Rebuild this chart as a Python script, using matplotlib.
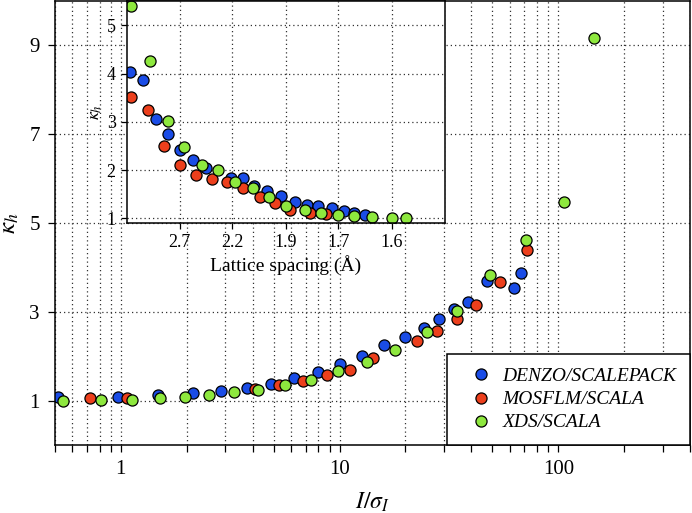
import numpy as np
import matplotlib
matplotlib.use("Agg")
import matplotlib.pyplot as plt
from matplotlib.ticker import FixedLocator, NullFormatter

plt.rcParams["font.family"] = ["Liberation Serif", "DejaVu Serif"]
plt.rcParams["mathtext.fontset"] = "stix"

# main panel: kappa_h against I/sigma(I)
denzo_isig = [0.517, 0.972, 1.48, 2.13, 2.86, 3.76, 4.84, 6.18, 7.96, 10.0,
              12.7, 15.9, 19.9, 24.2, 28.5, 33.5, 38.8, 47.3, 62.7, 67.8]
denzo_kappa = [1.09, 1.08, 1.13, 1.17, 1.22, 1.28, 1.37, 1.51, 1.64, 1.83,
               2.00, 2.25, 2.43, 2.63, 2.84, 3.06, 3.23, 3.69, 3.53, 3.88]

mosflm_isig = [0.725, 1.07, 4.11, 5.29, 6.77, 8.72, 11.2, 14.2, 22.6, 27.9,
               34.3, 42.0, 53.9, 71.9]
mosflm_kappa = [1.05, 1.06, 1.26, 1.35, 1.43, 1.58, 1.70, 1.97, 2.34, 2.56,
                2.84, 3.15, 3.68, 4.39]

xds_isig = [0.541, 0.810, 1.13, 1.51, 1.97, 2.54, 3.29, 4.25, 5.60, 7.42,
            9.82, 13.3, 18.0, 25.0, 34.4, 48.9, 70.9, 106.4, 145.9]
xds_kappa = [1.00, 1.01, 1.02, 1.05, 1.08, 1.12, 1.19, 1.24, 1.34, 1.47,
             1.66, 1.88, 2.15, 2.54, 3.02, 3.83, 4.61, 5.47, 9.17]

# inset: kappa_h against lattice spacing (A)
denzo_d = [3.73, 3.35, 3.07, 2.86, 2.70, 2.54, 2.41, 2.21, 2.13, 2.06,
           1.99, 1.92, 1.86, 1.81, 1.77, 1.72, 1.68, 1.65, 1.62]
denzo_kd = [4.03, 3.86, 3.06, 2.74, 2.41, 2.21, 2.04, 1.83, 1.83, 1.68,
            1.56, 1.46, 1.34, 1.28, 1.25, 1.21, 1.15, 1.12, 1.07]

mosflm_d = [3.71, 3.23, 2.93, 2.70, 2.51, 2.36, 2.24, 2.13, 2.03, 1.95,
            1.88, 1.80, 1.74]
mosflm_kd = [3.52, 3.24, 2.50, 2.11, 1.90, 1.82, 1.75, 1.62, 1.45, 1.32,
             1.18, 1.12, 1.08]

xds_d = [3.70, 3.19, 2.87, 2.64, 2.45, 2.31, 2.18, 2.07, 1.98, 1.90,
         1.82, 1.76, 1.70, 1.65, 1.60, 1.55, 1.515]
xds_kd = [5.40, 4.26, 3.01, 2.47, 2.11, 2.00, 1.76, 1.62, 1.44, 1.25,
          1.17, 1.12, 1.07, 1.04, 1.02, 1.00, 1.00]

d_ticks = [2.70, 2.20, 1.90, 1.70, 1.55]
d_labels = ["2.7", "2.2", "1.9", "1.7", "1.6"]

series = [
    ("DENZO/SCALEPACK", "#1a4ce6", denzo_isig, denzo_kappa, denzo_d, denzo_kd),
    ("MOSFLM/SCALA", "#ec3f1c", mosflm_isig, mosflm_kappa, mosflm_d, mosflm_kd),
    ("XDS/SCALA", "#8ee83e", xds_isig, xds_kappa, xds_d, xds_kd),
]

grid_kw = dict(color="0.2", linestyle=(0, (1, 2.4)), linewidth=0.9)
mk = dict(linestyle="none", marker="o", markersize=8,
          markeredgecolor="black", markeredgewidth=0.9)

fig = plt.figure(figsize=(6.92, 5.13), dpi=100)
ax = fig.add_axes([0.0795, 0.1326, 0.9176, 0.8654])

for name, col, xs, ys, _, _ in series:
    ax.plot(xs, ys, color=col, markerfacecolor=col, label=name, **mk)

ax.set_xscale("log")
ax.set_xlim(0.5, 400)
ax.set_ylim(0, 10)
ax.set_yticks([1, 3, 5, 7, 9])
ax.xaxis.set_major_locator(FixedLocator([1, 10, 100]))
ax.set_xticklabels(["1", "10", "100"])
ax.xaxis.set_minor_formatter(NullFormatter())
ax.grid(True, which="both", axis="x", **grid_kw)
ax.grid(True, which="major", axis="y", **grid_kw)
ax.tick_params(axis="both", which="major", direction="out", length=5,
               width=0.9, labelsize=15, pad=6)
ax.tick_params(axis="x", which="minor", direction="out", length=5, width=0.9)
ax.set_xlabel(r"$I/\sigma_I$", fontsize=17, labelpad=8)
ax.set_ylabel(r"$\kappa_h$", fontsize=18, labelpad=6)
for sp in ax.spines.values():
    sp.set_linewidth(1.1)

leg = ax.legend(loc="lower right", borderaxespad=0, fancybox=False,
                edgecolor="black", framealpha=1, handlelength=2.1,
                handletextpad=0.05, borderpad=0.7, labelspacing=0.28,
                prop={"style": "italic", "size": 14, "family": "Liberation Serif"})
leg.get_frame().set_linewidth(1.1)
leg.set_zorder(5)

# inset
ins = fig.add_axes([0.1832, 0.5659, 0.4598, 0.432])
for name, col, _, _, ds, ks in series:
    ins.plot(1 / np.array(ds) ** 2, ks, color=col, markerfacecolor=col, **mk)

ins.set_xlim(0.0676, 0.4866)
ins.set_ylim(0.91, 5.5)
ins.set_xticks(1 / np.array(d_ticks) ** 2)
ins.set_xticklabels(d_labels)
ins.set_yticks([1, 2, 3, 4, 5])
ins.grid(True, **grid_kw)
ins.tick_params(axis="both", direction="out", length=4, width=0.9,
                labelsize=13, pad=4)
ins.set_xlabel("Lattice spacing (Å)", fontsize=14, labelpad=3)
ins.set_ylabel(r"$\kappa_h$", fontsize=13, labelpad=2)
for sp in ins.spines.values():
    sp.set_linewidth(1.1)

fig.savefig("out.png", dpi=100)
